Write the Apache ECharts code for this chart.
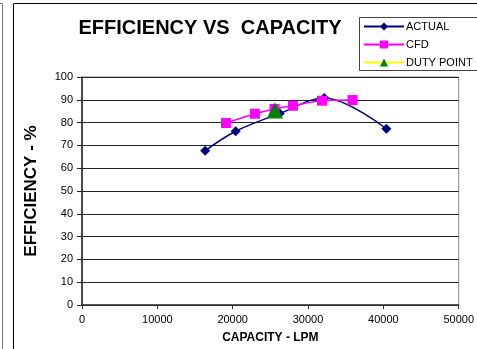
<!DOCTYPE html>
<html>
<head>
<meta charset="utf-8">
<script src="https://cdn.jsdelivr.net/npm/echarts@6/dist/echarts.min.js"></script>
<style>
  html, body { margin: 0; padding: 0; background: #fff; }
  #chart { width: 477px; height: 349px; }
</style>
</head>
<body>
<div id="chart"></div>
<script>
// Measured pump efficiency against flow (litres per minute)
const actualCapacity = [16350, 20400, 26250, 32150, 40400];
const actualEfficiency = [67.7, 76.2, 84.0, 90.8, 77.3];

// CFD-predicted efficiency
const cfdCapacity = [19100, 22950, 25550, 28000, 31850, 35900];
const cfdEfficiency = [79.8, 83.9, 86.0, 87.4, 89.6, 89.9];

// Design duty point
const dutyCapacity = [25600];
const dutyEfficiency = [85.3];

const seriesNames = ['ACTUAL', 'CFD', 'DUTY POINT'];
const xTicks = [0, 10000, 20000, 30000, 40000, 50000];
const yTicks = [0, 10, 20, 30, 40, 50, 60, 70, 80, 90, 100];

const pairs = (xs, ys) => xs.map((x, i) => [x, ys[i]]);
const FONT = 'Liberation Sans, Arial, sans-serif';

const chart = echarts.init(document.getElementById('chart'), null, { renderer: 'canvas' });

chart.setOption({
  animation: false,
  backgroundColor: '#fff',
  title: {
    text: 'EFFICIENCY VS  CAPACITY',
    left: 210,
    textAlign: 'center',
    top: 18,
    padding: 0,
    textStyle: { fontFamily: FONT, fontSize: 20, fontWeight: 'bold', color: '#000' }
  },
  legend: {
    data: seriesNames,
    orient: 'vertical',
    left: 363,
    top: 21,
    padding: 0,
    itemGap: 7,
    itemWidth: 40,
    itemHeight: 10,
    textStyle: { fontFamily: FONT, fontSize: 11, color: '#000', padding: [0, 0, 0, -3] }
  },
  grid: { left: 82, right: 16, top: 77, bottom: 41, show: true, borderColor: '#888', borderWidth: 1 },
  xAxis: {
    type: 'value',
    min: xTicks[0],
    max: xTicks[xTicks.length - 1],
    interval: xTicks[1] - xTicks[0],
    name: 'CAPACITY - LPM',
    nameLocation: 'middle',
    nameGap: 27,
    nameTextStyle: { fontFamily: FONT, fontSize: 12, fontWeight: 'bold', color: '#000' },
    axisLine: { lineStyle: { color: '#333', width: 1.5 } },
    axisTick: { show: true, length: 4, lineStyle: { color: '#333' } },
    axisLabel: { margin: 9, fontFamily: FONT, fontSize: 11, color: '#000', formatter: v => String(v) },
    splitLine: { show: false }
  },
  yAxis: {
    type: 'value',
    min: yTicks[0],
    max: yTicks[yTicks.length - 1],
    interval: yTicks[1] - yTicks[0],
    name: 'EFFICIENCY - %',
    nameLocation: 'middle',
    nameRotate: 90,
    nameGap: 42,
    nameTextStyle: { fontFamily: FONT, fontSize: 17, fontWeight: 'bold', color: '#000' },
    axisLine: { show: true, lineStyle: { color: '#222', width: 1.5 } },
    axisTick: { show: true, length: 5, lineStyle: { color: '#222' } },
    axisLabel: { margin: 9, fontFamily: FONT, fontSize: 11, color: '#000', formatter: v => String(v) },
    splitLine: { show: true, lineStyle: { color: '#222', width: 1 } }
  },
  series: [
    {
      name: seriesNames[0],
      type: 'line',
      smooth: 0.35,
      data: pairs(actualCapacity, actualEfficiency),
      symbol: 'diamond',
      symbolSize: 10,
      lineStyle: { color: '#000080', width: 1.5 },
      itemStyle: { color: '#000080' },
      z: 2
    },
    {
      name: seriesNames[1],
      type: 'line',
      smooth: 0.35,
      data: pairs(cfdCapacity, cfdEfficiency),
      symbol: 'rect',
      symbolSize: 10,
      lineStyle: { color: '#ff00ff', width: 1.5 },
      itemStyle: { color: '#ff00ff' },
      z: 3
    },
    {
      name: seriesNames[2],
      type: 'line',
      data: pairs(dutyCapacity, dutyEfficiency),
      symbol: 'triangle',
      symbolSize: [16, 16],
      lineStyle: { color: '#ffff00', width: 2 },
      itemStyle: { color: '#008000' },
      z: 4
    }
  ],
  graphic: [
    // legend frame
    { type: 'rect', shape: { x: 359.5, y: 17.5, width: 130, height: 53 },
      style: { fill: 'none', stroke: '#444', lineWidth: 1 }, z: -1 },
    // outer chart frame
    { type: 'line', shape: { x1: 13.5, y1: 3.5, x2: 477, y2: 3.5 }, style: { stroke: '#000', lineWidth: 1 } },
    { type: 'line', shape: { x1: 13.5, y1: 3.5, x2: 13.5, y2: 349 }, style: { stroke: '#000', lineWidth: 1 } },
    // neighbouring frame edge on the far left
    { type: 'line', shape: { x1: 0, y1: 3.5, x2: 2.5, y2: 3.5 }, style: { stroke: '#777', lineWidth: 1 } },
    { type: 'line', shape: { x1: 2.5, y1: 3.5, x2: 2.5, y2: 349 }, style: { stroke: '#777', lineWidth: 1 } }
  ]
});
</script>
</body>
</html>
